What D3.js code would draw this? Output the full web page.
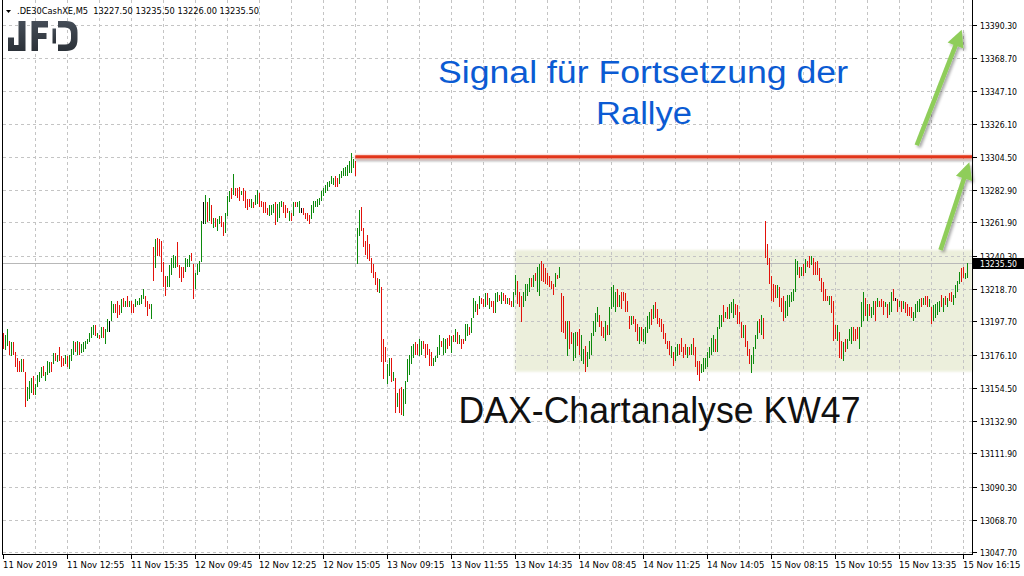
<!DOCTYPE html>
<html><head><meta charset="utf-8">
<script src="https://cdn.jsdelivr.net/npm/d3@7"></script>
<style>body{margin:0;background:#fff}svg{display:block}</style>
</head><body><svg id="c" width="1024" height="576"></svg>
<script>
// ---- DATA (M5 bars, DE30 CFD, 11-15 Nov 2019) ----
const highs = [
13190,13189,13193,13185,13184,13184,13178,13174,13172,13173,
13173,13165,13155,13159,13161,13162,13157,13163,13165,13168,
13169,13165,13172,13171,13171,13177,13177,13176,13181,13175,
13174,13176,13175,13176,13180,13185,13184,13185,13184,13183,
13184,13185,13186,13190,13194,13195,13195,13190,13189,13194,
13194,13193,13199,13198,13211,13209,13209,13211,13208,13212,
13213,13211,13214,13211,13211,13209,13212,13211,13213,13215,
13219,13214,13211,13209,13209,13246,13251,13252,13251,13250,
13236,13227,13227,13234,13239,13241,13240,13249,13234,13233,
13233,13239,13238,13241,13242,13235,13229,13235,13237,13263,
13275,13280,13275,13278,13273,13265,13265,13264,13266,13266,
13262,13268,13279,13282,13284,13293,13284,13284,13285,13282,
13284,13282,13277,13277,13277,13275,13280,13283,13281,13276,
13275,13275,13271,13273,13273,13274,13275,13274,13275,13276,
13275,13273,13271,13269,13268,13275,13275,13275,13276,13271,
13271,13268,13268,13267,13273,13276,13276,13277,13278,13282,
13284,13286,13288,13289,13292,13291,13292,13291,13293,13295,
13297,13298,13299,13302,13307,13303,13302,13258,13270,13272,
13258,13250,13254,13248,13239,13235,13230,13226,13225,13220,
13186,13181,13170,13174,13174,13165,13161,13151,13154,13155,
13154,13159,13173,13176,13182,13183,13184,13183,13186,13185,
13185,13183,13183,13180,13178,13174,13175,13181,13189,13185,
13187,13186,13187,13189,13188,13189,13193,13191,13189,13186,
13186,13196,13196,13194,13200,13213,13211,13209,13214,13213,
13212,13216,13216,13213,13211,13211,13216,13217,13215,13217,
13216,13215,13213,13213,13211,13217,13228,13224,13217,13214,
13217,13222,13222,13226,13226,13228,13229,13233,13235,13237,
13235,13232,13229,13227,13224,13222,13229,13228,13233,13216,
13214,13198,13198,13198,13191,13190,13191,13191,13193,13189,
13180,13182,13178,13185,13190,13198,13203,13207,13202,13198,
13194,13198,13195,13207,13220,13221,13217,13219,13215,13217,
13217,13216,13211,13201,13201,13201,13199,13196,13194,13194,
13193,13194,13201,13204,13206,13208,13210,13206,13200,13199,
13196,13190,13185,13185,13182,13178,13181,13183,13183,13187,
13181,13183,13181,13181,13183,13187,13181,13172,13172,13170,
13174,13174,13178,13181,13187,13189,13186,13194,13202,13202,
13208,13204,13207,13209,13210,13212,13209,13208,13204,13197,
13195,13195,13185,13180,13176,13181,13189,13198,13199,13202,
13200,13263,13248,13239,13227,13222,13221,13221,13220,13213,
13214,13211,13215,13215,13217,13219,13238,13237,13233,13233,
13235,13238,13237,13240,13240,13239,13236,13237,13232,13226,
13223,13219,13214,13214,13214,13211,13195,13195,13191,13185,
13184,13186,13186,13193,13194,13194,13193,13194,13194,13210,
13217,13213,13209,13209,13207,13211,13211,13213,13211,13212,
13211,13210,13209,13210,13217,13219,13213,13212,13211,13211,
13211,13210,13209,13207,13207,13204,13209,13211,13212,13213,
13213,13214,13214,13212,13207,13208,13209,13210,13211,13215,
13213,13214,13213,13216,13217,13215,13221,13224,13230,13232,
13233,13229,13235.5];
const lows = [
13180,13179,13182,13176,13175,13176,13168,13165,13165,13165,
13165,13142,13146,13147,13151,13150,13150,13155,13158,13161,
13162,13159,13163,13164,13165,13170,13172,13171,13172,13168,
13169,13170,13168,13167,13172,13176,13178,13176,13176,13177,
13178,13180,13183,13184,13187,13189,13188,13187,13186,13187,
13187,13183,13191,13191,13198,13203,13203,13200,13202,13203,
13207,13207,13207,13207,13203,13203,13207,13208,13208,13209,
13212,13207,13201,13206,13199,13224,13232,13240,13240,13230,
13220,13214,13220,13220,13228,13232,13232,13233,13226,13223,
13226,13230,13233,13233,13237,13212,13219,13228,13230,13236,
13261,13261,13262,13263,13261,13258,13259,13256,13261,13259,
13253,13255,13266,13275,13277,13280,13279,13278,13276,13280,
13276,13271,13270,13272,13271,13271,13273,13274,13272,13272,
13268,13268,13267,13266,13267,13268,13260,13262,13265,13272,
13268,13265,13268,13263,13263,13266,13272,13272,13268,13268,
13267,13264,13263,13261,13264,13268,13272,13272,13273,13276,
13279,13281,13282,13285,13287,13286,13285,13285,13287,13291,
13292,13292,13292,13294,13294,13297,13292,13235,13253,13256,
13246,13241,13238,13237,13229,13226,13221,13217,13216,13171,
13160,13171,13157,13162,13158,13159,13138,13142,13138,13137,
13136,13144,13158,13163,13170,13174,13176,13176,13175,13176,
13180,13174,13176,13169,13169,13169,13171,13174,13176,13181,
13176,13177,13180,13182,13177,13184,13184,13183,13183,13180,
13183,13185,13188,13189,13190,13200,13204,13202,13206,13209,
13207,13207,13208,13206,13207,13203,13203,13210,13211,13209,
13211,13209,13209,13208,13207,13207,13215,13209,13207,13197,
13207,13211,13214,13217,13220,13220,13224,13217,13214,13224,
13223,13222,13221,13220,13219,13215,13220,13225,13226,13191,
13190,13186,13175,13180,13183,13172,13174,13182,13176,13172,
13170,13165,13168,13173,13176,13188,13191,13197,13194,13188,
13187,13185,13189,13189,13206,13207,13204,13207,13207,13206,
13211,13204,13204,13193,13195,13196,13191,13185,13183,13185,
13184,13183,13190,13193,13195,13199,13200,13196,13194,13191,
13186,13183,13180,13176,13174,13169,13172,13175,13176,13178,
13174,13176,13174,13176,13176,13176,13168,13163,13159,13164,
13165,13167,13168,13174,13176,13178,13178,13178,13193,13194,
13197,13200,13199,13199,13203,13200,13202,13196,13196,13187,
13187,13181,13175,13170,13164,13170,13180,13186,13190,13189,
13186,13239,13234,13222,13211,13210,13213,13213,13207,13204,
13198,13200,13201,13207,13210,13211,13217,13228,13226,13227,
13227,13229,13233,13232,13234,13228,13228,13228,13224,13217,
13211,13211,13211,13208,13203,13185,13186,13185,13174,13173,
13172,13178,13180,13185,13183,13185,13185,13186,13180,13194,
13198,13201,13198,13201,13200,13202,13198,13207,13207,13207,
13202,13207,13200,13202,13204,13211,13211,13204,13207,13204,
13206,13203,13201,13201,13200,13198,13200,13204,13204,13207,
13208,13208,13207,13207,13196,13198,13200,13202,13204,13207,
13204,13208,13207,13211,13210,13208,13213,13217,13222,13223,
13226,13225,13226];
// bar direction: u = up (green), d = down (red), n = unchanged (black)
const dirs =
"duududdddu"+"dduuuduuuu"+"duuudududd"+"duduuududu"+"uuuuuududu"+
"duunuudddu"+"dududduuuu"+"udddududdd"+"dduuuuuddd"+"duuudduuuu"+
"nudududuud"+"duuududddu"+"dddduduudd"+"ddduuuduuu"+"dddududuun"+
"dddduuuuuu"+"uuuuuudduu"+"uuuuuuduud"+"ddddddddud"+"dduudududd"+
"uuuuuudduu"+"ddddduuuud"+"uuddududud"+"duuduuudud"+"dududduudu"+
"ddudduuddd"+"uuuududuud"+"ddddddudud"+"ddudduuddu"+"uduuuuuudd"+
"duduuuudud"+"ddddudddud"+"uuuududddd"+"dddduduudd"+"ddududdddu"+
"uuuuuuduuu"+"duduuudddd"+"uddduuuudu"+"dddddddudd"+"duuuuuuudu"+
"dudduddddd"+"dddudddudd"+"uduuuddduu"+"ududuududd"+"duduudndud"+
"udddduuuud"+"udduduuuud"+"ududduuuud"+"duu";
const xLabels = ["11 Nov 2019","11 Nov 12:55","11 Nov 15:35","12 Nov 09:45","12 Nov 12:25",
  "12 Nov 15:05","13 Nov 09:15","13 Nov 11:55","13 Nov 14:35","14 Nov 08:45","14 Nov 11:25",
  "14 Nov 14:05","15 Nov 08:15","15 Nov 10:55","15 Nov 13:35","15 Nov 16:15"];
const labelEvery = 32;   // bars between time labels
const gridEvery = 16;    // bars between vertical grid lines
const yTicks = [13390.30,13368.70,13347.10,13326.10,13304.50,13282.90,13261.90,13240.30,
  13218.70,13197.70,13176.10,13154.50,13132.90,13111.90,13090.30,13068.70,13047.70];
const symbol = ".DE30CashXE,M5";
const headerOHLC = [13227.50, 13235.50, 13226.00, 13235.50];
const lastPrice = 13235.50;
const resistance = 13304.50, resistanceStart = 176;
const rangeStart = 256, rangeTop = 13244, rangeBottom = 13165;
const arrows = [
  {from:[468.6, 13244], to:[483.0, 13301]},
  {from:[456.7, 13312], to:[479.2, 13387]}
];
const title1 = "Signal für Fortsetzung der", title2 = "Rallye";
const subtitle = "DAX-Chartanalyse KW47";

// ---- CHART ----
const svg = d3.select("#c");
const plot = {left: 2.5, right: 972.5, bottom: 554.5, top: 0};
const n = highs.length;
const x = d3.scaleLinear().domain([0, n - 1]).range([3.3, 3.3 + 2 * (n - 1)]);
const y = d3.scaleLinear().domain([13047.7, 13390.3]).range([552.4, 24.6]);
const px = i => Math.floor(x(i)) + 0.5;
const FONT = "'DejaVu Sans', Verdana, sans-serif";

const defs = svg.append("defs");
const sh = defs.append("filter").attr("id","shadow").attr("filterUnits","userSpaceOnUse")
  .attr("x",0).attr("y",0).attr("width",1024).attr("height",576);
sh.append("feGaussianBlur").attr("in","SourceAlpha").attr("stdDeviation",1.4).attr("result","b");
sh.append("feOffset").attr("in","b").attr("dx",1.5).attr("dy",2).attr("result","o");
sh.append("feComponentTransfer").attr("in","o").attr("result","o2").append("feFuncA").attr("type","linear").attr("slope",0.35);
const mg = sh.append("feMerge"); mg.append("feMergeNode").attr("in","o2"); mg.append("feMergeNode").attr("in","SourceGraphic");
const glow = defs.append("filter").attr("id","glow").attr("filterUnits","userSpaceOnUse")
  .attr("x",0).attr("y",0).attr("width",1024).attr("height",576);
glow.append("feGaussianBlur").attr("in","SourceAlpha").attr("stdDeviation",1.3).attr("result","b");
glow.append("feOffset").attr("in","b").attr("dx",0).attr("dy",2.5).attr("result","o");
glow.append("feComponentTransfer").attr("in","o").attr("result","o2").append("feFuncA").attr("type","linear").attr("slope",0.3);
glow.append("feGaussianBlur").attr("in","SourceGraphic").attr("stdDeviation",1.2).attr("result","g");
glow.append("feComponentTransfer").attr("in","g").attr("result","g2").append("feFuncA").attr("type","linear").attr("slope",0.5);
const mg2 = glow.append("feMerge"); mg2.append("feMergeNode").attr("in","o2"); mg2.append("feMergeNode").attr("in","g2"); mg2.append("feMergeNode").attr("in","SourceGraphic");
const blur = defs.append("filter").attr("id","soft").attr("x","-5%").attr("y","-10%").attr("width","110%").attr("height","120%");
blur.append("feGaussianBlur").attr("stdDeviation",1.2);
const lg = defs.append("linearGradient").attr("id","logo").attr("x1",0).attr("y1",0).attr("x2",0).attr("y2",1);
lg.append("stop").attr("offset","0%").attr("stop-color","#454d57");
lg.append("stop").attr("offset","100%").attr("stop-color","#2b3138");

// range box
svg.append("rect")
  .attr("x", x(rangeStart) - 0.5).attr("y", y(rangeTop))
  .attr("width", plot.right - x(rangeStart) + 0.5).attr("height", y(rangeBottom) - y(rangeTop))
  .attr("fill", "#e9edd7").attr("opacity", 0.85).attr("filter","url(#soft)");

// grid
const grid = svg.append("g").attr("stroke","#c4c4c4").attr("stroke-dasharray","3,3").attr("shape-rendering","crispEdges");
grid.selectAll("line.h").data(yTicks).join("line")
  .attr("x1", plot.left).attr("x2", plot.right)
  .attr("y1", d => Math.round(y(d)) + 0.5).attr("y2", d => Math.round(y(d)) + 0.5);
grid.selectAll("line.v").data(d3.range(gridEvery, n, gridEvery)).join("line")
  .attr("x1", px).attr("x2", px).attr("y1", 0).attr("y2", plot.bottom);

// last price line
svg.append("line").attr("x1", plot.left).attr("x2", plot.right)
  .attr("y1", Math.round(y(lastPrice)) + 0.5).attr("y2", Math.round(y(lastPrice)) + 0.5)
  .attr("stroke","#b8b8b8").attr("shape-rendering","crispEdges");

// bars
const color = {u:"#0c8a0c", d:"#e3120b", n:"#000000"};
svg.append("g").attr("shape-rendering","crispEdges").selectAll("line").data(d3.range(n)).join("line")
  .attr("x1", px).attr("x2", px)
  .attr("y1", i => y(highs[i])).attr("y2", i => Math.max(y(lows[i]), y(highs[i]) + 1))
  .attr("stroke", i => color[dirs[i]]).attr("stroke-width", 1);

// resistance line
svg.append("rect").attr("x", x(resistanceStart)).attr("width", plot.right - x(resistanceStart))
  .attr("y", y(resistance) - 1.5).attr("height", 3)
  .attr("fill","#e2361c").attr("filter","url(#glow)");

// arrows
arrows.forEach(a => {
  const x0 = x(a.from[0]), y0 = y(a.from[1]), x1 = x(a.to[0]), y1 = y(a.to[1]);
  const ang = Math.atan2(y1 - y0, x1 - x0), L = 17, Wd = 8.5;
  const bx = x1 - L * Math.cos(ang), by = y1 - L * Math.sin(ang);
  const g = svg.append("g").attr("filter","url(#shadow)");
  g.append("line").attr("x1", x0).attr("y1", y0).attr("x2", bx + 2*Math.cos(ang)).attr("y2", by + 2*Math.sin(ang))
    .attr("stroke","#8fcd5a").attr("stroke-width",4.5);
  g.append("path").attr("fill","#8fcd5a").attr("d",
    `M${x1},${y1}L${bx - Wd*Math.sin(ang)},${by + Wd*Math.cos(ang)}L${bx + Wd*Math.sin(ang)},${by - Wd*Math.cos(ang)}Z`);
});

// borders
const ax = svg.append("g").attr("stroke","#000").attr("shape-rendering","crispEdges");
ax.append("line").attr("x1", plot.left).attr("x2", plot.left).attr("y1", 0).attr("y2", plot.bottom);
ax.append("line").attr("x1", plot.right).attr("x2", plot.right).attr("y1", 0).attr("y2", plot.bottom);
ax.append("line").attr("x1", plot.left).attr("x2", plot.right).attr("y1", plot.bottom).attr("y2", plot.bottom);

// y axis
const yAxis = svg.append("g").attr("font-family", FONT).attr("font-size", 8.5);
yTicks.forEach(v => {
  const yy = Math.round(y(v)) + 0.5;
  yAxis.append("line").attr("x1", plot.right).attr("x2", plot.right + 4).attr("y1", yy).attr("y2", yy)
    .attr("stroke","#000").attr("shape-rendering","crispEdges");
  yAxis.append("text").attr("x", 980).attr("y", yy + 3).attr("fill","#000")
    .attr("textLength", 37).attr("lengthAdjust","spacingAndGlyphs").text(v.toFixed(2));
});
// last price tag
svg.append("rect").attr("x", 973).attr("y", Math.round(y(lastPrice)) - 5).attr("width", 51).attr("height", 11).attr("fill","#000");
svg.append("text").attr("x", 980).attr("y", Math.round(y(lastPrice)) + 3.5).attr("fill","#fff")
  .attr("font-family", FONT).attr("font-size", 8.5)
  .attr("textLength", 37).attr("lengthAdjust","spacingAndGlyphs").text(lastPrice.toFixed(2));

// x axis
const xAxis = svg.append("g").attr("font-family", FONT).attr("font-size", 8.5);
xLabels.forEach((lab, k) => {
  const xx = px(k * labelEvery);
  xAxis.append("line").attr("x1", xx).attr("x2", xx).attr("y1", plot.bottom).attr("y2", plot.bottom + 4)
    .attr("stroke","#000").attr("shape-rendering","crispEdges");
  xAxis.append("text").attr("x", xx - 0.5).attr("y", 568).attr("fill","#000").text(lab);
});

// header
svg.append("path").attr("d","M6,10H11L8.5,13Z").attr("fill","#000");
svg.append("text").attr("x", 17).attr("y", 14).attr("font-family", FONT).attr("font-size", 8.5)
  .attr("fill","#000").attr("xml:space","preserve")
  .attr("textLength", 242).attr("lengthAdjust","spacingAndGlyphs")
  .text(symbol + "  " + headerOHLC.map(v => v.toFixed(2)).join(" "));

// JFD logo
const logo = svg.append("g").attr("fill","url(#logo)");
logo.append("path").attr("d","M18.5,21H25.5V51H8V37.5H14V45H18.5Z");
logo.append("path").attr("d","M31.5,21H48V27.5H38V33H46.5V39H38V51H31.5Z");
logo.append("rect").attr("x",52.5).attr("y",28.5).attr("width",3.5).attr("height",15);
logo.append("path")
  .attr("d","M58,21H66Q77.5,21 77.5,32.5V39.5Q77.5,51 66,51H58V44.5H65Q71,44.5 71,38.5V33.5Q71,27.5 65,27.5H58Z");

// titles
svg.append("text").attr("x", 643).attr("y", 82.5).attr("text-anchor","middle")
  .attr("font-family","'Liberation Sans', Arial, sans-serif").attr("font-size", 31)
  .attr("textLength", 410).attr("lengthAdjust","spacingAndGlyphs").attr("fill","#0b5bd3").text(title1);
svg.append("text").attr("x", 644).attr("y", 123.5).attr("text-anchor","middle")
  .attr("font-family","'Liberation Sans', Arial, sans-serif").attr("font-size", 31)
  .attr("textLength", 96).attr("lengthAdjust","spacingAndGlyphs").attr("fill","#0b5bd3").text(title2);
svg.append("text").attr("x", 659.5).attr("y", 423).attr("text-anchor","middle")
  .attr("font-family","'Liberation Sans', Arial, sans-serif").attr("font-size", 36)
  .attr("textLength", 402).attr("lengthAdjust","spacingAndGlyphs").attr("fill","#111").text(subtitle);
</script></body></html>
